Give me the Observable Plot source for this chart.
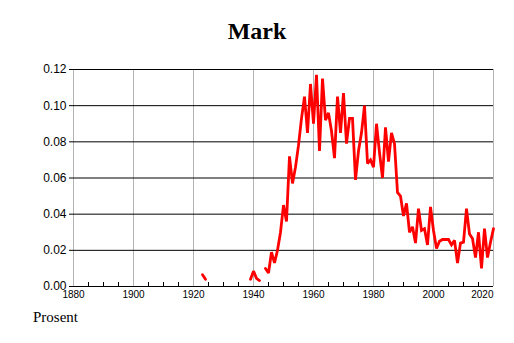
<!DOCTYPE html>
<html>
<head>
<meta charset="utf-8">
<script src="https://cdn.jsdelivr.net/npm/d3@7"></script>
<script src="https://cdn.jsdelivr.net/npm/@observablehq/plot@0.6"></script>
<style>
  html, body { margin: 0; padding: 0; background: #fff; }
  #wrap { position: relative; width: 514px; height: 343px; overflow: hidden; }
  #title { position: absolute; left: 0; width: 514px; top: 16px; text-align: center; padding-left: 0px; box-sizing: border-box;
           font-family: "Liberation Serif", "Times New Roman", serif; font-weight: bold; font-size: 24px; line-height: 30px; color: #000; }
  #caption { position: absolute; left: 33px; top: 307px; font-family: "Liberation Serif", "Times New Roman", serif; font-size: 15px; line-height: 20px; color: #000; }
  #chart { position: absolute; left: 0; top: 0; }
</style>
</head>
<body>
<div id="wrap">
  <div id="chart"></div>
  <div id="title">Mark</div>
  <div id="caption">Prosent</div>
</div>
<script>
// Segment 1
const years1 = [1923, 1924];
const values1 = [0.0065, 0.004];
// Segment 2
const years2 = [1939, 1940, 1941, 1942];
const values2 = [0.004, 0.0085, 0.0045, 0.0033];
// Segment 3
const years3 = [1944, 1945, 1946, 1947, 1948, 1949, 1950, 1951, 1952, 1953,
  1954, 1955, 1956, 1957, 1958, 1959, 1960, 1961, 1962, 1963,
  1964, 1965, 1966, 1967, 1968, 1969, 1970, 1971, 1972, 1973,
  1974, 1975, 1976, 1977, 1978, 1979, 1980, 1981, 1982, 1983,
  1984, 1985, 1986, 1987, 1988, 1989, 1990, 1991, 1992, 1993,
  1994, 1995, 1996, 1997, 1998, 1999, 2000, 2001, 2002, 2003,
  2004, 2005, 2006, 2007, 2008, 2009, 2010, 2011, 2012, 2013,
  2014, 2015, 2016, 2017, 2018, 2019, 2020];
const values3 = [0.010, 0.0075, 0.019, 0.013, 0.020, 0.030, 0.045, 0.036, 0.072, 0.057,
  0.066, 0.078, 0.093, 0.105, 0.085, 0.112, 0.090, 0.117, 0.075, 0.115,
  0.092, 0.096, 0.086, 0.071, 0.105, 0.085, 0.107, 0.079, 0.093, 0.093,
  0.059, 0.075, 0.085, 0.100, 0.068, 0.070, 0.066, 0.090, 0.074, 0.060,
  0.088, 0.069, 0.085, 0.079, 0.052, 0.050, 0.039, 0.046, 0.030, 0.033,
  0.024, 0.043, 0.031, 0.032, 0.023, 0.044, 0.031, 0.021, 0.025, 0.026,
  0.026, 0.026, 0.023, 0.0255, 0.013, 0.024, 0.0245, 0.043, 0.029, 0.0265,
  0.016, 0.030, 0.010, 0.032, 0.016, 0.0245, 0.032];

const yTicks = [0, 0.02, 0.04, 0.06, 0.08, 0.10, 0.12];
const xLabelYears = [1880, 1900, 1920, 1940, 1960, 1980, 2000];
const xLastLabel = [2020];
const xGridYears = [1880, 1900, 1920, 1940, 1960, 1980, 2000, 2020];
const xMinorYears = [1885, 1890, 1895, 1905, 1910, 1915, 1925, 1930, 1935, 1945, 1950, 1955,
  1965, 1970, 1975, 1985, 1990, 1995, 2005, 2010, 2015];

const data = [
  ...years1.map((y, i) => ({year: y, value: values1[i], seg: 1})),
  ...years2.map((y, i) => ({year: y, value: values2[i], seg: 2})),
  ...years3.map((y, i) => ({year: y, value: values3[i], seg: 3}))
];

const chart = Plot.plot({
  width: 514,
  height: 343,
  marginTop: 69,
  marginBottom: 57,
  marginLeft: 73,
  marginRight: 21,
  style: {background: "transparent", fontFamily: "'Liberation Sans', Arial, sans-serif", fontSize: "12px", color: "#000"},
  x: {domain: [1880, 2020], axis: null},
  y: {domain: [0, 0.12], axis: null},
  marks: [
    Plot.ruleX(xGridYears, {x: d => d, stroke: "#b4b4b4", strokeWidth: 1}),
    Plot.ruleY(yTicks, {y: d => d, stroke: "#000", strokeWidth: 1}),
    Plot.axisY({ticks: yTicks, tickSize: 4, tickPadding: 3, tickFormat: d3.format(".2f"), fontSize: 12, label: null}),
    Plot.axisX({ticks: xMinorYears, tickSize: 4, dy: -4, tickFormat: () => "", label: null}),
    Plot.text(xLabelYears, {x: d => d, frameAnchor: "bottom", lineAnchor: "top", dy: 4, text: d => String(d), fontSize: 10}),
    Plot.text(xLastLabel, {x: d => d, frameAnchor: "bottom", lineAnchor: "top", dy: 4, textAnchor: "end", text: d => String(d), fontSize: 10}),
    Plot.line(data, {x: "year", y: "value", z: "seg", stroke: "#ff0000", strokeWidth: 2.8, strokeLinejoin: "miter", strokeMiterlimit: 2})
  ]
});
document.getElementById("chart").appendChild(chart);
</script>
</body>
</html>
